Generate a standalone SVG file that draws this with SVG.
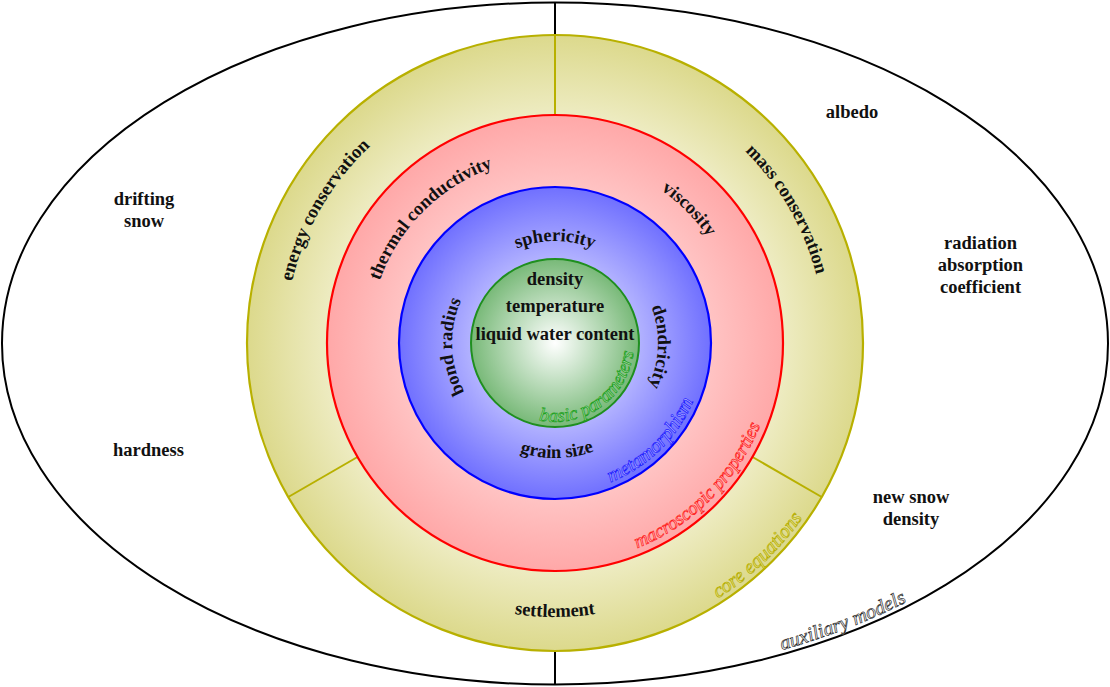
<svg xmlns="http://www.w3.org/2000/svg" width="1110" height="687" viewBox="0 0 1110 687">
<style>
.b{font-family:"Liberation Serif","DejaVu Serif",serif;font-weight:bold;font-size:18.5px;fill:#111;text-anchor:middle}
.i{font-family:"Liberation Serif","DejaVu Serif",serif;font-style:italic;font-size:20px;stroke-width:0.7;text-anchor:middle}
.div{stroke:#b8b000;stroke-width:2;fill:none}
</style>
<defs>
<radialGradient id="gCore"><stop offset="0" stop-color="#ffffff"/><stop offset="0.72" stop-color="#efedc6"/><stop offset="1" stop-color="#dcd98c"/></radialGradient>
<radialGradient id="gRed"><stop offset="0" stop-color="#ffffff"/><stop offset="1" stop-color="#ffa8a8"/></radialGradient>
<radialGradient id="gBlue"><stop offset="0" stop-color="#ffffff"/><stop offset="1" stop-color="#7070ff"/></radialGradient>
<radialGradient id="gGreen"><stop offset="0" stop-color="#ffffff"/><stop offset="1" stop-color="#78b978"/></radialGradient>
<path id="pEnergy" d="M321.17,478 A270,270 0 0 1 555,73"/>
<path id="pMass" d="M555,73 A270,270 0 0 1 788.83,478"/>
<path id="pThermal" d="M375.3,391.1 A186,186 0 0 1 603.1,163.3"/>
<path id="pVisc" d="M506.9,163.3 A186,186 0 0 1 734.7,391.1"/>
<path id="pSpher" d="M466.7,292 A102,102 0 0 1 643.3,292"/>
<path id="pBond" d="M506.6,433.9 A103,103 0 0 1 500.4,255.7"/>
<path id="pDend" d="M609.6,255.7 A103,103 0 0 1 603.4,433.9"/>
<path id="pGrain" d="M456.4,402.2 A115,115 0 0 0 655.6,398.8"/>
<path id="pSettle" d="M317.7,480 A274,274 0 0 0 792.3,480"/>
<path id="pBasic" d="M500.1,399.8 A79,79 0 0 0 626,308.4"/>
<path id="pMeta" d="M514.9,487.5 A150,150 0 0 0 700.2,305.4"/>
<path id="pMacro" d="M497.5,557.4 A223,223 0 0 0 769.4,285.5"/>
<path id="pCore" d="M521.5,644.2 A303,303 0 0 0 857.4,323.7"/>
<path id="pAux" d="M650.3,674.9 A549,337 0 0 0 999.1,541.1"/>
</defs>

<g id="auxiliary-models">
<ellipse cx="555" cy="343.5" rx="553" ry="341" fill="#fff" stroke="#000" stroke-width="2"/>
<line x1="555" y1="2" x2="555" y2="36" stroke="#000" stroke-width="2"/>
<line x1="555" y1="650" x2="555" y2="685" stroke="#000" stroke-width="2"/>
<text class="b" x="144" y="205">drifting</text>
<text class="b" x="144" y="227">snow</text>
<text class="b" x="148.5" y="456">hardness</text>
<text class="b" x="852" y="118">albedo</text>
<text class="b" x="980.5" y="249">radiation</text>
<text class="b" x="980.5" y="271">absorption</text>
<text class="b" x="980.5" y="293">coefficient</text>
<text class="b" x="911" y="503">new snow</text>
<text class="b" x="911" y="525">density</text>
<text class="i" fill="#ffffff" stroke="#333"><textPath href="#pAux" startOffset="201">auxiliary models</textPath></text>
</g>

<g id="core-equations">
<circle cx="555" cy="343" r="308" fill="url(#gCore)" stroke="#b8b000" stroke-width="2.2"/>
<text class="b"><textPath href="#pEnergy" startOffset="50%">energy conservation</textPath></text>
<text class="b"><textPath href="#pMass" startOffset="50%">mass conservation</textPath></text>
<text class="b"><textPath href="#pSettle" startOffset="50%">settlement</textPath></text>
<text class="i" fill="#e4e07e" stroke="#b5ad00"><textPath href="#pCore" startOffset="50%">core equations</textPath></text>
</g>

<g id="connectors">
<line class="div" x1="555" y1="35" x2="555" y2="115"/>
<line class="div" x1="288.3" y1="497" x2="357.5" y2="457"/>
<line class="div" x1="821.7" y1="497" x2="752.5" y2="457"/>
</g>

<g id="macroscopic-properties">
<circle cx="555" cy="343" r="228" fill="url(#gRed)" stroke="#ff0000" stroke-width="2.2"/>
<text class="b"><textPath href="#pThermal" startOffset="50%">thermal conductivity</textPath></text>
<text class="b"><textPath href="#pVisc" startOffset="50%">viscosity</textPath></text>
<text class="i" fill="#ffb4b4" stroke="#ff2020" style="font-size:19px"><textPath href="#pMacro" startOffset="50%">macroscopic properties</textPath></text>
</g>

<g id="metamorphism">
<circle cx="555" cy="343" r="156" fill="url(#gBlue)" stroke="#0000ff" stroke-width="2.2"/>
<text class="b"><textPath href="#pSpher" startOffset="50%">sphericity</textPath></text>
<text class="b"><textPath href="#pBond" startOffset="50%">bond radius</textPath></text>
<text class="b"><textPath href="#pDend" startOffset="50%">dendricity</textPath></text>
<text class="b"><textPath href="#pGrain" startOffset="50%">grain size</textPath></text>
<text class="i" fill="#a8a8ff" stroke="#2020ff"><textPath href="#pMeta" startOffset="50%">metamorphism</textPath></text>
</g>

<g id="basic-parameters">
<circle cx="555" cy="343" r="84" fill="url(#gGreen)" stroke="#1f8f1f" stroke-width="2"/>
<text class="b" x="555" y="285">density</text>
<text class="b" x="555" y="312">temperature</text>
<text class="b" x="555" y="339.5">liquid water content</text>
<text class="i" fill="#a0d8a0" stroke="#20a020" style="font-size:19px"><textPath href="#pBasic" startOffset="50%">basic parameters</textPath></text>
</g>
</svg>
